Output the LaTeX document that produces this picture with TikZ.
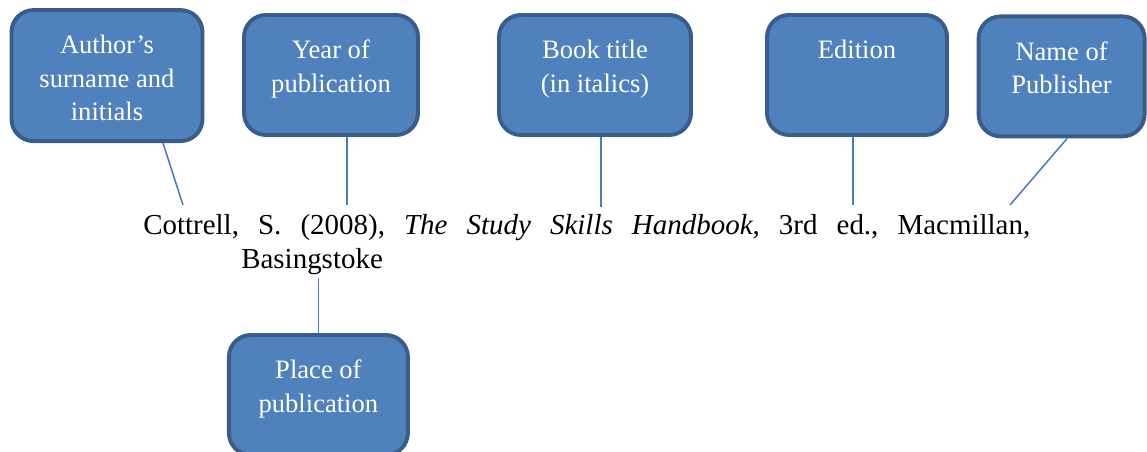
\documentclass[tikz,border=0pt]{standalone}
\usepackage{fontspec}
\setmainfont{Liberation Serif}
\newfontfamily\serifface{Liberation Serif}[Ligatures=TeX]
\usetikzlibrary{calc}
\definecolor{boxBlue}{RGB}{79, 129, 189}
\definecolor{boxBorder}{RGB}{56, 93, 138}
\definecolor{linkBlue}{RGB}{74, 126, 187}
\begin{document}
\begin{tikzpicture}
    \tikzstyle{partbox} = [rectangle, draw=boxBorder, fill=boxBlue, line width=2.8pt, rounded corners=0.55cm, inner sep=0pt]
    \tikzstyle{parttext} = [anchor=north, yshift=-0.67cm, inner sep=0pt, text=white, align=center, font={\fontsize{18.9}{23.8}\serifface}]
    \tikzstyle{citetext} = [anchor=base west, inner sep=0pt, text width=22.175cm, align=justify, font={\fontsize{20.6}{23.5}\serifface}]
    \tikzstyle{link} = [draw=linkBlue, line width=1.1pt]

    \useasboundingbox (0,0) rectangle (28.675,-11.3);
    \clip (0,0) rectangle (28.675,-11.3);

    % the reference itself
    \node[citetext] (cite) at (3.575,-5.875) {\frenchspacing\tolerance=10000\hyphenpenalty=10000\hangindent=2.45cm\hangafter=1 Cottrell, S. (2008), \textit{The Study Skills Handbook}, 3rd ed., Macmillan, Basingstoke\par};

    % labelled parts
    \node[partbox, minimum width=4.775cm, minimum height=3.275cm, label={[parttext]north:Author's\\surname and\\initials}] (author) at (2.675,-1.89) {};
    \node[partbox, minimum width=4.35cm, minimum height=3.0cm, label={[parttext]north:Year of\\publication}] (year) at (8.275,-1.875) {};
    \node[partbox, minimum width=4.8cm, minimum height=3.0cm, label={[parttext]north:Book title\\(in italics)}] (book) at (14.875,-1.875) {};
    \node[partbox, minimum width=4.5cm, minimum height=3.0cm, label={[parttext]north:Edition}] (edition) at (21.425,-1.875) {};
    \node[partbox, minimum width=4.15cm, minimum height=3.0cm, label={[parttext]north:Name of\\Publisher}] (publisher) at (26.54,-1.91) {};
    \node[partbox, minimum width=4.475cm, minimum height=3.0cm, label={[parttext]north:Place of\\publication}] (place) at (7.96,-9.875) {};

    \coordinate (authorend) at (4.575,-5.125);
    \coordinate (yearend) at (8.675,-5.125);
    \coordinate (bookend) at (15.025,-5.175);
    \coordinate (editionend) at (21.325,-5.125);
    \coordinate (publisherend) at (25.25,-5.125);
    \coordinate (placeend) at (7.96,-6.95);

    \draw[link] ($(author.south)+(1.4,0)$) -- (authorend);
    \draw[link] ($(year.south)+(0.4,0)$) -- (yearend);
    \draw[link] ($(book.south)+(0.15,0)$) -- (bookend);
    \draw[link] ($(edition.south)+(-0.1,0)$) -- (editionend);
    \draw[link] ($(publisher.south)+(0.14,0)$) -- (publisherend);
    \draw[link] (place.north) -- (placeend);
\end{tikzpicture}
\end{document}
